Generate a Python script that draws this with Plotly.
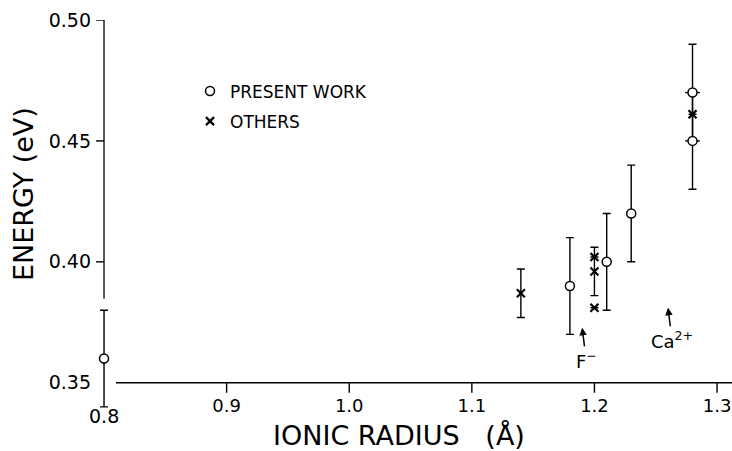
import plotly.graph_objects as go

# ---- data ----
present_x = [0.80, 1.18, 1.21, 1.23, 1.28, 1.28]
present_y = [0.36, 0.39, 0.40, 0.42, 0.47, 0.45]
present_err = [0.02, 0.02, 0.02, 0.02, 0.02, 0.02]
present_side = [None, None, None, None, 0.006, 0.006]

others_x = [1.14, 1.20, 1.20, 1.20, 1.28]
others_y = [0.387, 0.402, 0.396, 0.381, 0.461]
others_err = [0.01, None, 0.01, None, None]

x_tickvals = [0.9, 1.0, 1.1, 1.2, 1.3]
x_ticktext = ["0.9", "1.0", "1.1", "1.2", "1.3"]
x_origin_label = "0.8"
y_tickvals = [0.35, 0.40, 0.45, 0.50]
y_ticktext = ["0.35", "0.40", "0.45", "0.50"]
y_tickmarks = [0.40, 0.45, 0.50]

ion_labels = ["F<sup>\u2212</sup>", "Ca<sup>2+</sup>"]
ion_radius = [1.19, 1.26]
ion_arrow_tip = [0.3727, 0.381]

FONT = "DejaVu Sans"
X_ORIGIN, Y_ORIGIN = 0.8, 0.35
X0, X1 = 0.7902, 1.3122
Y0, Y1 = 0.335, 0.50
L, R, T, B = 92, 0, 20, 32
W, H = 732, 451
PLOT_W, PLOT_H = W - L - R, H - T - B
PXU_X = PLOT_W / (X1 - X0)
PXU_Y = PLOT_H / (Y1 - Y0)


def py(px):
    """pixel row -> paper y"""
    return (H - B - px) / PLOT_H


def pxp(px):
    """pixel column -> paper x"""
    return (px - L) / PLOT_W


fig = go.Figure()

fig.add_trace(go.Scatter(
    x=present_x, y=present_y, mode="markers", name="PRESENT WORK",
    legendgroup="a",
    marker=dict(symbol="circle", size=9, color="white",
                line=dict(color="black", width=1.5)),
    error_y=dict(type="data", array=present_err, visible=True,
                 color="black", thickness=1.4, width=4),
    error_x=dict(type="data", array=present_side, visible=True,
                 color="black", thickness=1.4, width=0),
    cliponaxis=False,
))

fig.add_trace(go.Scatter(
    x=others_x, y=others_y, mode="markers", name="OTHERS",
    legendgroup="b",
    marker=dict(symbol="x-thin", size=8, color="black",
                line=dict(color="black", width=2.2)),
    error_y=dict(type="data", array=others_err, visible=True,
                 color="black", thickness=1.4, width=4),
    cliponaxis=False,
))

AX = dict(color="black", width=1.3)
TK = dict(color="black", width=1.4)
shapes = []
# broken axis lines
shapes.append(dict(type="line", xref="x", yref="y", x0=X_ORIGIN, x1=X_ORIGIN,
                   y0=0.3847, y1=Y1, line=AX))
shapes.append(dict(type="line", xref="x", yref="y", x0=0.8098, x1=X1,
                   y0=Y_ORIGIN, y1=Y_ORIGIN, line=AX))
for v in y_tickmarks:
    shapes.append(dict(type="line", xref="x", yref="y",
                       x0=X_ORIGIN - 8 / PXU_X, x1=X_ORIGIN, y0=v, y1=v,
                       line=TK))
for v in x_tickvals:
    shapes.append(dict(type="line", xref="x", yref="y", x0=v, x1=v,
                       y0=Y_ORIGIN, y1=Y_ORIGIN - 10 / PXU_Y, line=TK))

annotations = []
for lab, rx, tip in zip(ion_labels, ion_radius, ion_arrow_tip):
    annotations.append(dict(
        x=rx, y=tip, xref="x", yref="y", text=lab, showarrow=True,
        arrowhead=2, arrowsize=1, arrowwidth=1.5, arrowcolor="black",
        ax=4, ay=32, font=dict(family=FONT, size=18, color="black"),
    ))

annotations.append(dict(
    text=x_origin_label, xref="x", yref="paper", x=X_ORIGIN, y=py(416),
    xanchor="center", yanchor="middle", showarrow=False,
    font=dict(family=FONT, size=19, color="black"),
))
annotations.append(dict(
    text="IONIC RADIUS\u00a0\u00a0\u00a0(\u00c5)", xref="paper", yref="paper",
    x=pxp(399), y=py(435),
    xanchor="center", yanchor="middle", showarrow=False,
    font=dict(family=FONT, size=27, color="black"),
))
annotations.append(dict(
    text="ENERGY (eV)", xref="paper", yref="paper", textangle=-90,
    x=pxp(23), y=py(194),
    xanchor="center", yanchor="middle", showarrow=False,
    font=dict(family=FONT, size=27, color="black"),
))

fig.update_layout(
    width=W, height=H, autosize=False,
    margin=dict(l=L, r=R, t=T, b=B, pad=0),
    paper_bgcolor="white", plot_bgcolor="white",
    font=dict(family=FONT, color="black"),
    showlegend=True,
    legend=dict(x=pxp(190), y=py(73.5),
                xanchor="left", yanchor="top", traceorder="grouped",
                tracegroupgap=5, bgcolor="rgba(0,0,0,0)",
                font=dict(family=FONT, size=17, color="black")),
    xaxis=dict(range=[X0, X1], showline=False, showgrid=False,
               zeroline=False, anchor="free",
               position=(Y_ORIGIN - Y0) / (Y1 - Y0),
               ticks="outside", ticklen=10, tickwidth=1.3,
               tickcolor="rgba(0,0,0,0)", tickvals=x_tickvals,
               ticktext=x_ticktext,
               tickfont=dict(family=FONT, size=18, color="black"),
               ticklabelstandoff=-3),
    yaxis=dict(range=[Y0, Y1], showline=False, showgrid=False,
               zeroline=False, ticks="", tickvals=y_tickvals,
               ticktext=y_ticktext,
               tickfont=dict(family=FONT, size=19, color="black"),
               ticklabelstandoff=0),
    shapes=shapes, annotations=annotations,
)

fig.write_html(
    "out.html",
    config={"displayModeBar": False},
    post_script="document.body.style.margin='0';document.body.style.overflow='hidden';",
)
